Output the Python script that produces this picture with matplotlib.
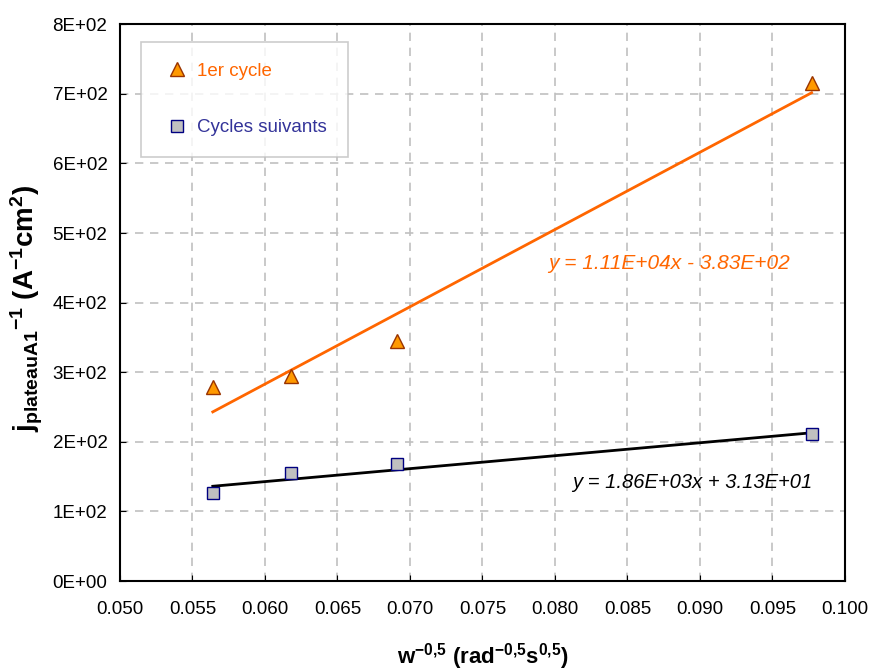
import numpy as np
import matplotlib
matplotlib.use("Agg")
import matplotlib.pyplot as plt
from matplotlib.ticker import FuncFormatter, MultipleLocator

plt.rcParams['font.family'] = ['Liberation Sans', 'DejaVu Sans']
plt.rcParams['mathtext.fontset'] = 'custom'
plt.rcParams['mathtext.rm'] = 'Liberation Sans'
plt.rcParams['mathtext.bf'] = 'Liberation Sans:bold'
plt.rcParams['mathtext.it'] = 'Liberation Sans:italic'

# data
x_vals = [0.0564, 0.0618, 0.0691, 0.0977]
y_first = [279, 294, 345, 715]      # 1er cycle
y_next = [126, 155, 168, 211]       # Cycles suivants

# trendline coefficients (slope, intercept) as printed on the chart
fit_first = [1.11e4, -3.83e2]
fit_next = [1.86e3, 3.13e1]
eq_first = "y = 1.11E+04x - 3.83E+02"
eq_next = "y = 1.86E+03x + 3.13E+01"

fig = plt.figure(figsize=(8.72, 6.71), dpi=100)
ax = fig.add_axes([0.1376, 0.134, 0.8314, 0.830])

ax.grid(True, color='#c0c0c0', linestyle=(0, (5, 4)), linewidth=1.2)
ax.set_axisbelow(True)

# trendlines over the data range
xl = np.array([min(x_vals), max(x_vals)])
ax.plot(xl, fit_first[0] * xl + fit_first[1], color='#ff6600', lw=2, zorder=2)
ax.plot(xl, fit_next[0] * xl + fit_next[1], color='black', lw=2, zorder=2)

ax.plot(x_vals, y_first, linestyle='none', marker='^', ms=10, mfc='#ff9900',
        mec='#993300', mew=1, label='1er cycle', zorder=3)
ax.plot(x_vals, y_next, linestyle='none', marker='s', ms=9, mfc='#c0c0c0',
        mec='#000080', mew=1, label='Cycles suivants', zorder=3)

ax.set_xlim(0.05, 0.10)
ax.set_ylim(0, 800)
ax.xaxis.set_major_locator(MultipleLocator(0.005))
ax.yaxis.set_major_locator(MultipleLocator(100))
ax.xaxis.set_major_formatter(FuncFormatter(lambda v, p: f"{v:.3f}"))
ax.yaxis.set_major_formatter(FuncFormatter(lambda v, p: f"{v:.0E}"))
ax.tick_params(axis='x', direction='in', length=4, pad=14, labelsize=13.5)
ax.tick_params(axis='y', direction='in', length=4, pad=9, labelsize=13.5)
for s in ax.spines.values():
    s.set_linewidth(1.5)

leg = ax.legend(loc='upper left', bbox_to_anchor=(0.029, 0.968), borderaxespad=0,
                fontsize=13.5, labelspacing=2.1, borderpad=1.1, handlelength=1.6,
                handletextpad=0.3, fancybox=False, edgecolor='#c0c0c0',
                labelcolor=['#ff6600', '#333399'])
leg.get_frame().set_linewidth(1.2)

ax.text(0.0795, 456, eq_first, color='#ff6600', fontsize=15, style='italic',
        va='center', ha='left')
ax.text(0.0812, 141, eq_next, color='black', fontsize=14.5, style='italic',
        va='center', ha='left')

ax.set_xlabel(r'$\mathbf{w^{-0{,}5}\ (rad^{-0{,}5}s^{0{,}5})}$', fontsize=16)
ax.xaxis.set_label_coords(0.5, -0.108)
fig.text(0.031, 0.54, r'$\mathbf{j_{plateauA1}{}^{-1}\ (A^{-1}cm^{2})}$',
         fontsize=20, rotation=90, ha='center', va='center')

fig.savefig('out.png', dpi=100)
